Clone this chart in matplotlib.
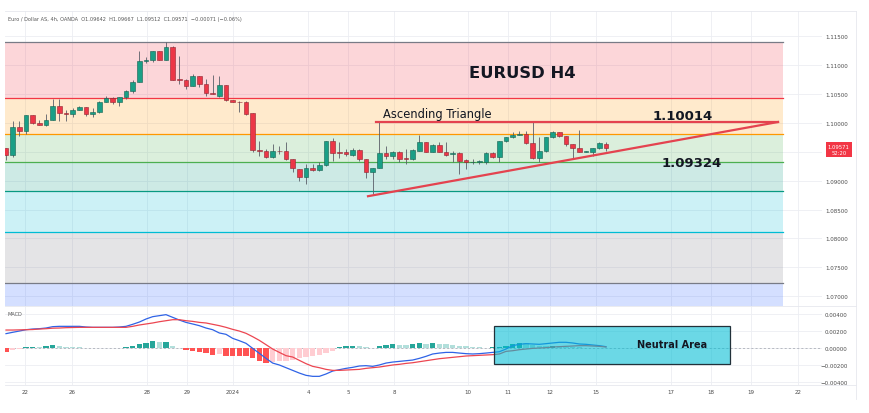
import numpy as np
import matplotlib.pyplot as plt
import matplotlib.transforms as mtransforms
from matplotlib.lines import Line2D
from matplotlib.patches import Rectangle

# ---------------------------------------------------------------------
# Data: EUR/USD 4h candles (OANDA), 21 Dec 2023 -> 15 Jan 2024
# ---------------------------------------------------------------------
opens = [1.09556, 1.09447, 1.09920, 1.09862, 1.10133, 1.09995, 1.09966, 1.10046, 1.10295, 1.10167,
         1.10150, 1.10225, 1.10265, 1.10150, 1.10179, 1.10364, 1.10422, 1.10364, 1.10439, 1.10554,
         1.10710, 1.11073, 1.11085, 1.11235, 1.11091, 1.11304, 1.10757, 1.10745, 1.10641, 1.10802,
         1.10670, 1.10514, 1.10468, 1.10658, 1.10387, 1.10364, 1.10352, 1.10162, 1.09533, 1.09516,
         1.09412, 1.09521, 1.09516, 1.09372, 1.09210, 1.09066, 1.09227, 1.09187, 1.09274, 1.09677,
         1.09504, 1.09504, 1.09447, 1.09527, 1.09372, 1.09141, 1.09216, 1.09475, 1.09429, 1.09487,
         1.09395, 1.09371, 1.09516, 1.09660, 1.09504, 1.09620, 1.09504, 1.09464, 1.09475, 1.09354,
         1.09325, 1.09331, 1.09325, 1.09475, 1.09412, 1.09677, 1.09747, 1.09793, 1.09799, 1.09648,
         1.09400, 1.09516, 1.09747, 1.09833, 1.09764, 1.09631, 1.09556, 1.09504, 1.09504, 1.09556,
         1.09642]
highs = [1.09573, 1.10035, 1.10023, 1.10133, 1.10140, 1.10047, 1.10150, 1.10410, 1.10410, 1.10225,
         1.10254, 1.10295, 1.10277, 1.10254, 1.10381, 1.10462, 1.10439, 1.10450, 1.10572, 1.10745,
         1.11247, 1.11143, 1.11235, 1.11240, 1.11396, 1.11327, 1.11148, 1.10757, 1.10843, 1.10814,
         1.10756, 1.10825, 1.10814, 1.10658, 1.10398, 1.10381, 1.10381, 1.10162, 1.09689, 1.09545,
         1.09631, 1.09602, 1.09660, 1.09372, 1.09210, 1.09285, 1.09285, 1.09314, 1.09689, 1.09735,
         1.09660, 1.09545, 1.09573, 1.09545, 1.09372, 1.09216, 1.10014, 1.09602, 1.09516, 1.09516,
         1.09545, 1.09545, 1.09787, 1.09672, 1.09630, 1.09660, 1.09660, 1.09516, 1.09487, 1.09371,
         1.09371, 1.09354, 1.09498, 1.09487, 1.09677, 1.09758, 1.09833, 1.09850, 1.09850, 1.10029,
         1.09747, 1.09758, 1.09850, 1.09845, 1.09775, 1.09631, 1.09879, 1.09516, 1.09562, 1.09660,
         1.09667]
lows = [1.09354, 1.09412, 1.09775, 1.09804, 1.09977, 1.09966, 1.09948, 1.10046, 1.10023, 1.10035,
        1.10093, 1.10219, 1.10121, 1.10104, 1.10162, 1.10364, 1.10323, 1.10295, 1.10410, 1.10508,
        1.10700, 1.11027, 1.11045, 1.11085, 1.11085, 1.10740, 1.10670, 1.10583, 1.10629, 1.10612,
        1.10468, 1.10496, 1.10439, 1.10381, 1.10364, 1.10179, 1.10139, 1.09487, 1.09429, 1.09400,
        1.09400, 1.09458, 1.09354, 1.09141, 1.08997, 1.08939, 1.09170, 1.09170, 1.09256, 1.09343,
        1.09400, 1.09429, 1.09429, 1.09343, 1.09054, 1.08770, 1.09216, 1.09372, 1.09372, 1.09314,
        1.09285, 1.09354, 1.09516, 1.09498, 1.09498, 1.09487, 1.09429, 1.09314, 1.09112, 1.09198,
        1.09285, 1.09285, 1.09285, 1.09400, 1.09325, 1.09660, 1.09735, 1.09787, 1.09637, 1.09383,
        1.09314, 1.09504, 1.09735, 1.09747, 1.09602, 1.09383, 1.09487, 1.09487, 1.09429, 1.09545,
        1.09512]
closes = [1.09447, 1.09920, 1.09862, 1.10133, 1.09989, 1.09966, 1.10052, 1.10295, 1.10162, 1.10150,
          1.10225, 1.10265, 1.10150, 1.10179, 1.10364, 1.10422, 1.10364, 1.10450, 1.10554, 1.10710,
          1.11062, 1.11085, 1.11235, 1.11091, 1.11304, 1.10745, 1.10745, 1.10641, 1.10802, 1.10670,
          1.10508, 1.10496, 1.10658, 1.10398, 1.10364, 1.10352, 1.10150, 1.09527, 1.09516, 1.09412,
          1.09516, 1.09510, 1.09372, 1.09227, 1.09066, 1.09227, 1.09187, 1.09268, 1.09677, 1.09475,
          1.09475, 1.09458, 1.09527, 1.09372, 1.09141, 1.09216, 1.09470, 1.09429, 1.09487, 1.09383,
          1.09383, 1.09527, 1.09660, 1.09504, 1.09620, 1.09498, 1.09447, 1.09470, 1.09343, 1.09314,
          1.09331, 1.09337, 1.09475, 1.09412, 1.09677, 1.09747, 1.09793, 1.09799, 1.09648, 1.09400,
          1.09516, 1.09747, 1.09833, 1.09764, 1.09631, 1.09556, 1.09504, 1.09510, 1.09556, 1.09648,
          1.09571]

# MACD (12, 26, 9), values in units of 1e-3
macd_line = [1.71, 1.87, 2.02, 2.18, 2.26, 2.30, 2.38, 2.54, 2.58, 2.58,
             2.58, 2.58, 2.50, 2.46, 2.46, 2.46, 2.46, 2.50, 2.58, 2.82,
             3.09, 3.45, 3.73, 3.85, 3.97, 3.65, 3.33, 3.05, 2.86, 2.66,
             2.38, 2.18, 1.79, 1.63, 1.15, 0.87, 0.56, -0.04, -0.63, -1.23,
             -1.79, -2.02, -2.34, -2.66, -2.98, -3.25, -3.37, -3.37, -3.09, -2.74,
             -2.58, -2.42, -2.30, -2.14, -2.10, -2.18, -2.02, -1.79, -1.67, -1.59,
             -1.51, -1.43, -1.23, -0.99, -0.71, -0.60, -0.52, -0.52, -0.60, -0.67,
             -0.71, -0.67, -0.60, -0.52, -0.44, -0.12, 0.28, 0.44, 0.52, 0.48,
             0.44, 0.52, 0.60, 0.68, 0.68, 0.60, 0.48, 0.44, 0.36, 0.28,
             0.16]
signal_line = [2.14, 2.14, 2.16, 2.18, 2.20, 2.26, 2.30, 2.36, 2.38, 2.42,
               2.44, 2.46, 2.46, 2.46, 2.46, 2.46, 2.46, 2.46, 2.46, 2.58,
               2.74, 2.86, 2.98, 3.13, 3.25, 3.37, 3.37, 3.25, 3.17, 3.05,
               2.98, 2.82, 2.66, 2.46, 2.22, 2.02, 1.75, 1.35, 0.91, 0.40,
               -0.12, -0.52, -0.91, -1.07, -1.47, -1.86, -2.18, -2.34, -2.54, -2.66,
               -2.66, -2.62, -2.58, -2.54, -2.42, -2.34, -2.26, -2.14, -2.02, -1.94,
               -1.83, -1.75, -1.63, -1.51, -1.39, -1.27, -1.19, -1.11, -1.03, -0.95,
               -0.91, -0.87, -0.83, -0.79, -0.71, -0.40, -0.32, -0.20, -0.12, -0.04,
               0.00, 0.04, 0.12, 0.16, 0.20, 0.24, 0.28, 0.28, 0.24, 0.20,
               0.12]
histogram = [-0.52, -0.20, -0.12, 0.08, 0.16, 0.12, 0.20, 0.32, 0.24, 0.16,
             0.12, 0.08, 0.04, -0.03, 0.02, 0.04, 0.04, 0.04, 0.12, 0.28,
             0.52, 0.60, 0.79, 0.67, 0.71, 0.28, -0.04, -0.24, -0.36, -0.52,
             -0.63, -0.83, -0.75, -0.91, -0.91, -0.91, -0.99, -1.23, -1.55, -1.79,
             -1.71, -1.59, -1.51, -1.39, -1.23, -1.11, -0.99, -0.83, -0.60, -0.32,
             0.08, 0.20, 0.28, 0.20, 0.12, 0.04, 0.24, 0.32, 0.44, 0.36,
             0.32, 0.48, 0.60, 0.52, 0.60, 0.52, 0.44, 0.36, 0.28, 0.20,
             0.12, 0.08, 0.04, 0.08, 0.16, 0.28, 0.52, 0.60, 0.56, 0.40,
             0.28, 0.20, 0.28, 0.20, 0.16, 0.12, 0.08, 0.04, 0.01, 0.01,
             0.02]

# Fibonacci retracement levels (0, .236, .382, .5, .618, .786, 1, 1.618)
fib_levels = [1.11396, 1.10428, 1.09810, 1.09321, 1.08828, 1.08112, 1.07227, 1.04700]
fib_colors = ["#787b86", "#f23645", "#ff9800", "#4caf50", "#089981", "#00bcd4", "#787b86", "#2962ff"]

# drawings (bar index, price)
resistance = ([55.5, 115.8], [1.10014, 1.10014])
support = ([54.3, 115.8], [1.08731, 1.10014])

date_pos = [2.85, 9.9, 21.15, 27.15, 34.05, 45.3, 51.3, 58.2, 69.3, 75.3,
            81.6, 88.5, 99.75, 105.75, 111.75, 118.8]
date_labels = ["22", "26", "28", "29", "2024", "4", "5", "8", "10", "11",
               "12", "15", "17", "18", "19", "22"]
price_ticks = [1.115, 1.110, 1.105, 1.100, 1.095, 1.090, 1.085, 1.080, 1.075, 1.070]
macd_ticks = [0.004, 0.002, 0.0, -0.002, -0.004]

# ---------------------------------------------------------------------
# Figure
# ---------------------------------------------------------------------
W, H = 870, 414
fig = plt.figure(figsize=(W / 100, H / 100), dpi=100)
ax = fig.add_axes([5 / W, 1 - 307 / H, 817 / W, 295 / H])
ax2 = fig.add_axes([5 / W, 1 - 386 / H, 817 / W, 79 / H], sharex=ax)

GRID = "#eceef3"
TXT = "#4a4a4a"
x = np.arange(len(closes))

# -- fib bands -------------------------------------------------------
fib_x0, fib_x1 = -5, 116.5
for k in range(len(fib_levels) - 1):
    ax.fill_between([fib_x0, fib_x1], fib_levels[k + 1], fib_levels[k],
                    color=fib_colors[k + 1], alpha=0.2, lw=0, zorder=1)
for lvl, col in zip(fib_levels[:-1], fib_colors[:-1]):
    ax.plot([fib_x0, fib_x1], [lvl, lvl], color=col, lw=0.9, zorder=2)

# -- candles ---------------------------------------------------------
o = np.array(opens); c = np.array(closes)
up = c >= o
face = np.where(up, "#1a9f86", "#ec3747")
edge = np.where(up, "#14604f", "#8f2330")
ax.vlines(x, lows, highs, color="#5a5e68", lw=0.6, zorder=3)
ax.bar(x, np.maximum(np.abs(c - o), 0.00002), bottom=np.minimum(o, c), width=0.66,
       color=face, edgecolor=edge, linewidth=0.4, zorder=4)

# -- drawings --------------------------------------------------------
ax.plot(*resistance, color="#e4434f", lw=1.6, zorder=5)
ax.plot(*support, color="#e4434f", lw=1.6, zorder=5)
ax.text(56.5, 1.10167, "Ascending Triangle", fontsize=8.3, color="#131722",
        ha="left", va="center", zorder=6)
ax.text(77.4, 1.10877, "EURUSD H4", fontsize=11.8, fontweight="bold", color="#131722",
        ha="center", va="center", zorder=6)
ax.text(101.5, 1.10133, "1.10014", fontsize=9.5, fontweight="bold", color="#131722",
        ha="center", va="center", zorder=6)
ax.text(102.9, 1.09319, "1.09324", fontsize=9.5, fontweight="bold", color="#131722",
        ha="center", va="center", zorder=6)

# -- main axis styling -----------------------------------------------
ax.set_xlim(-0.15, 122.4)
ax.set_ylim(1.06833, 1.11933)
# the 1.09500 label sits under the live price tag
ax.set_yticks(price_ticks, labels=["" if abs(p - 1.095) < 1e-9 else f"{p:.5f}" for p in price_ticks],
              fontsize=4, color=TXT, ha="right")
ax.yaxis.tick_right()
ax.tick_params(axis="y", length=0, pad=18.5)
ax.set_xticks(date_pos)
ax.tick_params(axis="x", length=0, labelbottom=False)
ax.grid(True, color=GRID, lw=0.6, zorder=0)
ax.set_axisbelow(True)
for s in ax.spines.values():
    s.set_visible(False)

# current price tag
blend = mtransforms.blended_transform_factory(ax.transAxes, ax.transData)
ax.annotate(f"{closes[-1]:.5f}\n52:20", xy=(1.0205, closes[-1]), xycoords=blend,
            xytext=(0, 2.5), textcoords="offset points", ha="center", va="top",
            fontsize=3.8, color="white", linespacing=1.3, annotation_clip=False,
            bbox=dict(boxstyle="square,pad=0.35", fc="#f23645", ec="none"))

# -- MACD pane -------------------------------------------------------
hist = np.array(histogram) / 1000
hcol = []
for i, h in enumerate(hist):
    prev = hist[i - 1] if i > 0 else h
    if h >= 0:
        hcol.append("#26a69a" if h > prev else "#b2dfdb")
    else:
        hcol.append("#ffcdd2" if h > prev else "#ff5252")
ax2.bar(x, hist, width=0.8, color=hcol, zorder=2)
ax2.plot(x, np.array(macd_line) / 1000, color="#2f63e6", lw=0.9, zorder=3)
ax2.plot(x, np.array(signal_line) / 1000, color="#ec4651", lw=0.9, zorder=3)
ax2.axhline(0, color="#a0a4ad", lw=0.5, ls=(0, (3, 3)), zorder=1)

ax2.add_patch(Rectangle((73.2, -0.00190), 35.4, 0.00452, fc=(0.0, 0.74, 0.83, 0.58),
                        ec="#22313a", lw=0.9, zorder=4))
ax2.text(99.9, 0.00048, "Neutral Area", fontsize=7, fontweight="bold", color="#131722",
         ha="center", va="center", zorder=5)

ax2.set_ylim(-0.0044, 0.0050)
ax2.set_yticks(macd_ticks, labels=["0.00400", "0.00200", "0.00000", "\u22120.00200", "\u22120.00400"],
               fontsize=4, color=TXT, ha="right")
ax2.yaxis.tick_right()
ax2.tick_params(axis="y", length=0, pad=18.5)
ax2.set_xticks(date_pos, labels=date_labels, fontsize=4, color=TXT)
ax2.tick_params(axis="x", length=0, pad=3)
ax2.grid(True, color=GRID, lw=0.6, zorder=0)
ax2.set_axisbelow(True)
for s in ax2.spines.values():
    s.set_visible(False)

# -- header / frame --------------------------------------------------
fig.text(8 / W, 1 - 19 / H,
         "Euro / Dollar AS, 4h, OANDA  O1.09642  H1.09667  L1.09512  C1.09571  \u22120.00071 (\u22120.06%)",
         fontsize=3.6, color="#555555", va="center")
fig.text(8 / W, 1 - 315 / H, "MACD", fontsize=3.6, color="#555555", va="center")
for yy in (12, 307, 386):
    fig.add_artist(Line2D([5 / W, 856 / W], [1 - yy / H] * 2, color="#e6e8ee", lw=0.6))
fig.add_artist(Line2D([856 / W] * 2, [1 - 400 / H, 1 - 12 / H], color="#e6e8ee", lw=0.6))

fig.savefig("out.png", dpi=100, facecolor="white")
